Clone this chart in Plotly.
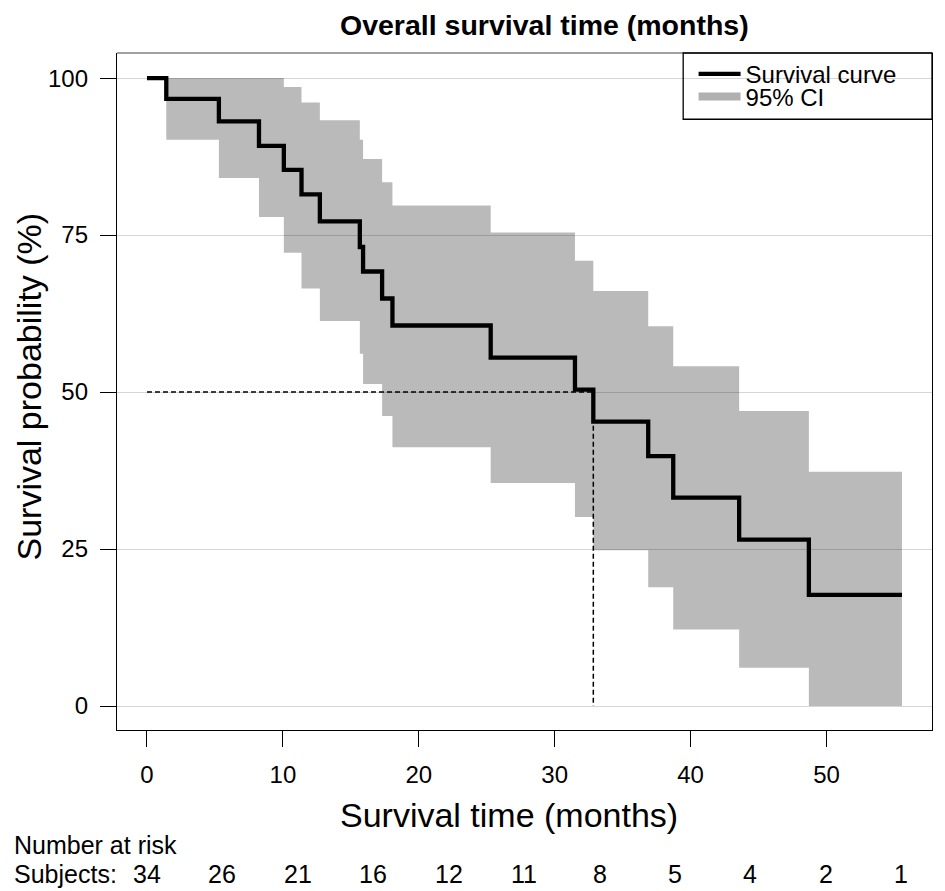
import plotly.graph_objects as go

# ---------------- data ----------------
times = [0, 1.42, 5.29, 8.24, 10.07, 11.37, 12.72, 15.66, 15.90, 17.30,
         18.06, 25.29, 31.49, 32.84, 36.88, 38.72, 43.57, 48.70]
end_time = 55.55
surv = [100, 96.7, 93.1, 89.2, 85.4, 81.5, 77.2, 73.1, 69.2, 64.9,
        60.6, 55.5, 50.4, 45.3, 39.8, 33.2, 26.5, 17.7]
ci_upper = [None, 100, 100, 100, 98.6, 96.1, 93.3, 90.2, 87.1, 83.4,
            79.7, 75.4, 70.9, 66.1, 60.5, 54.1, 47.0, 37.3]
ci_lower = [None, 90.2, 84.1, 77.9, 72.2, 66.5, 61.3, 56.1, 51.3, 46.2,
            41.2, 35.5, 30.1, 24.8, 18.9, 12.2, 6.1, 0.0]
risk_times = [0, 5.55, 11.1, 16.65, 22.2, 27.75, 33.3, 38.85, 44.4, 49.95, 55.5]
risk_counts = [34, 26, 21, 16, 12, 11, 8, 5, 4, 2, 1]
x_ticks = [0, 10, 20, 30, 40, 50]
y_ticks = [0, 25, 50, 75, 100]

# ---------------- layout geometry ----------------
# The page body has an 8px margin, so the figure is sized to fill the
# rest of the 945x891 window; positions below are given in window pixels.
OFF = 8
W, H = 945 - OFF, 891 - OFF
PLOT_L, PLOT_R, PLOT_T, PLOT_B = 116.7, 932.3, 52.7, 730.0   # window px
ML = PLOT_L - OFF
MR = 945 - PLOT_R
MT = PLOT_T - OFF
MB = 891 - PLOT_B
PW, PH = PLOT_R - PLOT_L, PLOT_B - PLOT_T
FONT = "Liberation Sans, Arial, Helvetica, sans-serif"


def px_x(px):
    return (px - PLOT_L) / PW


def px_y(py):
    return (PLOT_B - py) / PH


# ---------------- build step band from data ----------------
n = len(times)
seg_end = times[1:] + [end_time]
bx_up, by_up, bx_lo, by_lo = [], [], [], []
for i in range(1, n):
    bx_up += [times[i], seg_end[i]]
    by_up += [ci_upper[i], ci_upper[i]]
    bx_lo += [times[i], seg_end[i]]
    by_lo += [ci_lower[i], ci_lower[i]]
band_x = bx_up + bx_lo[::-1]
band_y = by_up + by_lo[::-1]

median_t = next(t for t, s in zip(times, surv) if s <= 50)

fig = go.Figure()

fig.add_trace(go.Scatter(
    x=band_x, y=band_y, fill="toself", mode="lines",
    line=dict(width=0), fillcolor="rgba(0,0,0,0.27)",
    showlegend=False, hoverinfo="skip"))

# median reference lines
fig.add_trace(go.Scatter(
    x=[0, median_t, median_t], y=[50, 50, 0], mode="lines",
    line=dict(color="black", width=1.5, dash="5px,3px"),
    showlegend=False, hoverinfo="skip"))

fig.add_trace(go.Scatter(
    x=times + [end_time], y=surv + [surv[-1]], mode="lines",
    line=dict(color="black", width=4.3, shape="hv"),
    name="Survival curve", legend="legend"))

fig.add_trace(go.Scatter(
    x=[None], y=[None], mode="lines",
    line=dict(color="#b0b0b0", width=8),
    name="95% CI", legend="legend2"))

annotations = [
    dict(text="<b>Overall survival time (months)</b>", xref="paper", yref="paper",
         x=px_x(545), y=px_y(25), xanchor="center", yanchor="middle",
         borderpad=0, showarrow=False,
         font=dict(size=28.5, color="black", family=FONT)),
    dict(text="Survival time (months)", xref="paper", yref="paper",
         x=px_x(508.5), y=px_y(815), xanchor="center", yanchor="middle",
         showarrow=False, font=dict(size=34, color="black", family=FONT)),
    dict(text="Survival probability (%)", xref="paper", yref="paper",
         x=px_x(29), y=px_y(386), xanchor="center", yanchor="middle",
         textangle=-90, showarrow=False,
         font=dict(size=34, color="black", family=FONT)),
    dict(text="Number at risk", xref="paper", yref="paper",
         x=px_x(12), y=px_y(845), xanchor="left", yanchor="middle",
         showarrow=False, font=dict(size=25, color="black", family=FONT)),
    dict(text="Subjects:", xref="paper", yref="paper",
         x=px_x(12), y=px_y(874), xanchor="left", yanchor="middle",
         showarrow=False, font=dict(size=25, color="black", family=FONT)),
]
for t, c in zip(risk_times, risk_counts):
    annotations.append(dict(
        text=str(c), xref="x", yref="paper", x=t, y=px_y(874),
        xanchor="center", yanchor="middle", showarrow=False,
        font=dict(size=25, color="black", family=FONT)))

shapes = [
    # grey top frame line
    dict(type="line", xref="paper", yref="paper", x0=0, x1=1, y0=1, y1=1,
         line=dict(color="#808080", width=1.3)),
    # legend frame
    dict(type="rect", xref="paper", yref="paper",
         x0=px_x(683.3), x1=1, y0=px_y(119), y1=1,
         line=dict(color="black", width=1.3), fillcolor="rgba(0,0,0,0)"),
]

fig.update_layout(
    width=W, height=H,
    margin=dict(l=ML, r=MR, t=MT, b=MB, pad=0),
    paper_bgcolor="white", plot_bgcolor="white",
    font=dict(family=FONT, color="black"),
    annotations=annotations, shapes=shapes,
    legend=dict(x=px_x(693.7), y=px_y(74), xanchor="left", yanchor="middle",
                bgcolor="rgba(0,0,0,0)", borderwidth=0, itemwidth=42,
                font=dict(size=24, color="black", family=FONT)),
    legend2=dict(x=px_x(693.7), y=px_y(96.7), xanchor="left", yanchor="middle",
                 bgcolor="rgba(0,0,0,0)", borderwidth=0, itemwidth=42,
                 font=dict(size=24, color="black", family=FONT)),
)

fig.update_xaxes(
    range=[-2.206, 57.76], tickmode="array", tickvals=x_ticks,
    ticktext=[str(v) for v in x_ticks], ticks="outside", ticklen=16,
    tickwidth=1.3, tickcolor="black", showline=True, linecolor="black",
    linewidth=1.3, mirror=False, showgrid=False, zeroline=False,
    ticklabelstandoff=7, tickfont=dict(size=24, color="black", family=FONT))

fig.update_yaxes(
    range=[-3.82, 104.0], tickmode="array", tickvals=y_ticks,
    ticktext=[str(v) for v in y_ticks], ticks="outside", ticklen=16,
    tickwidth=1.3, tickcolor="black", showline=True, linecolor="black",
    linewidth=1.3, mirror=True, showgrid=True, gridcolor="#d6d6d6",
    gridwidth=1.2, zeroline=False, ticklabelstandoff=7,
    tickfont=dict(size=24, color="black", family=FONT))

fig.write_html("out.html")
